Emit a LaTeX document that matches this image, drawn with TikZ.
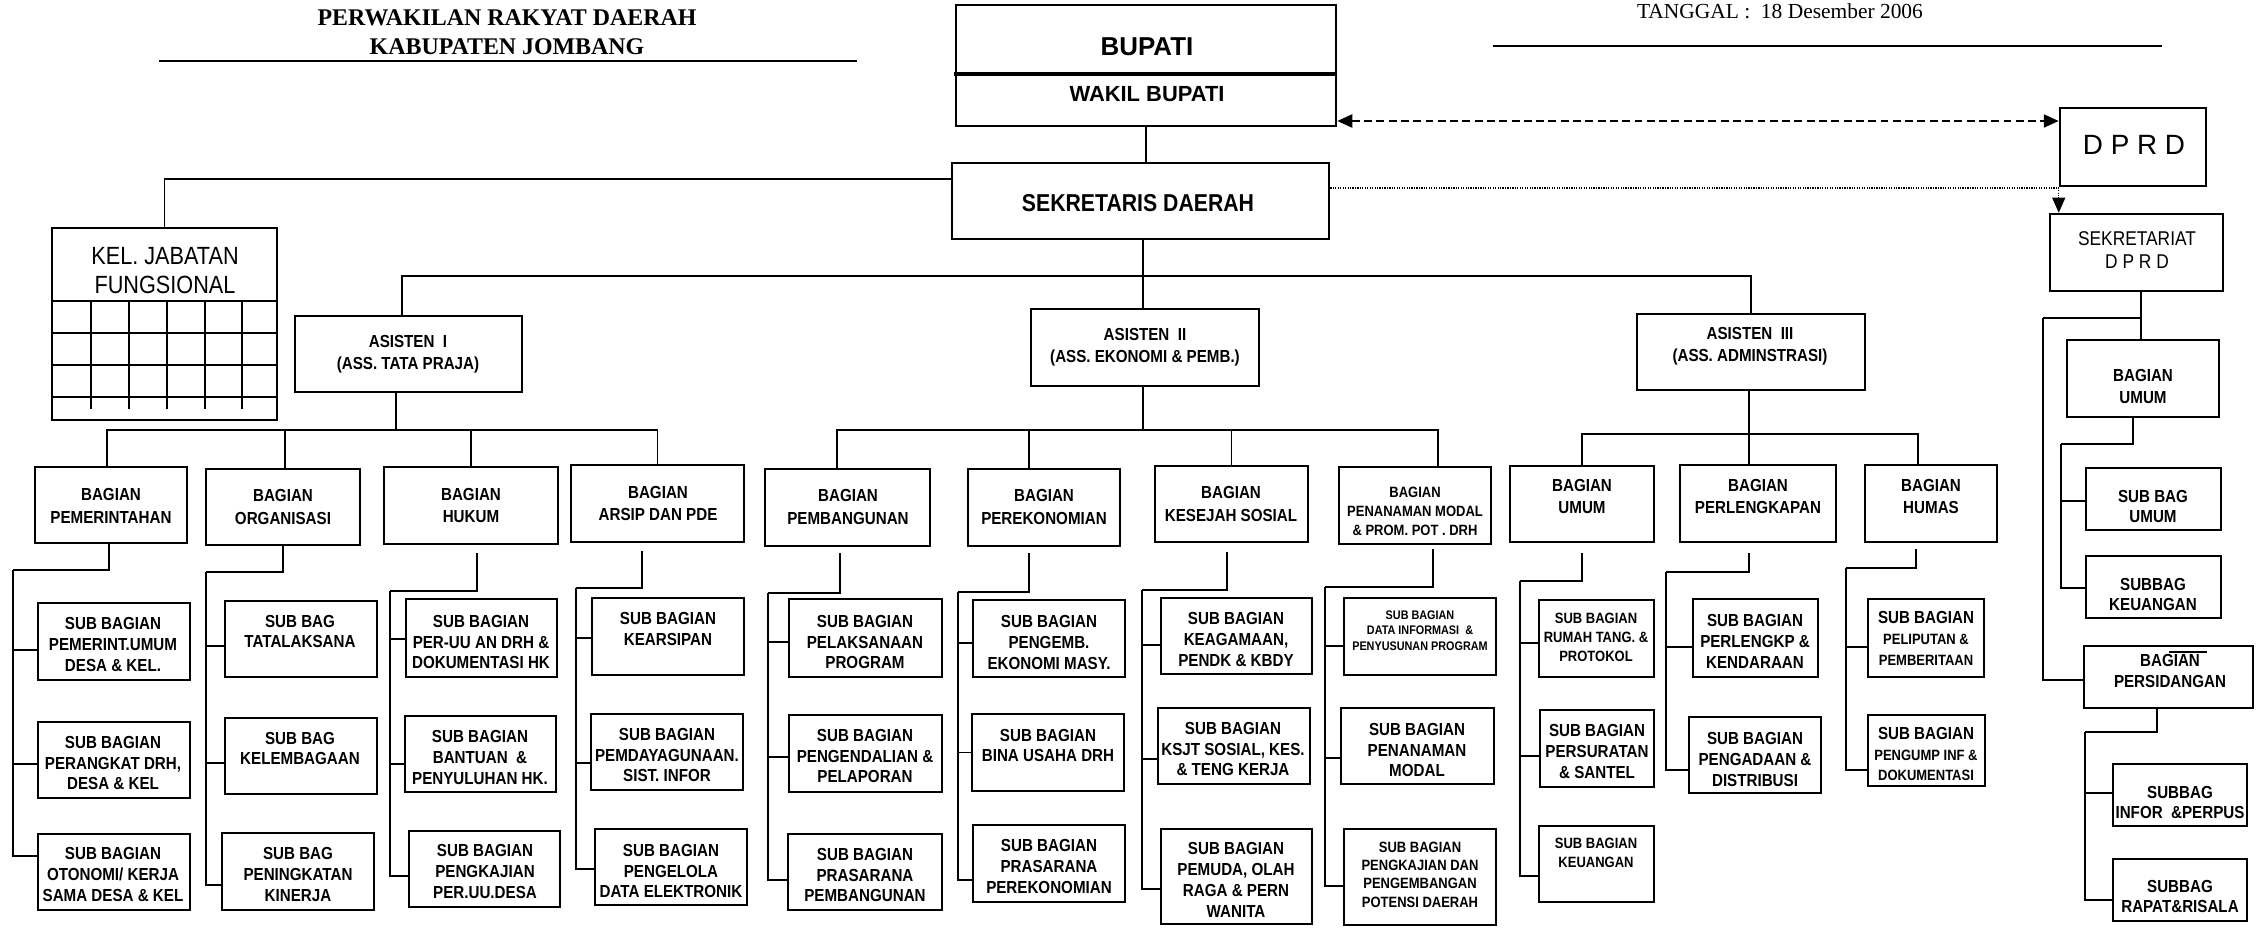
\documentclass[tikz,border=0pt]{standalone}
\usepackage{fontspec}
\newfontfamily\nfont[FakeStretch=0.87]{Liberation Sans}
\newfontfamily\rfont{Liberation Sans}
\newfontfamily\sfont{Liberation Serif}
\usetikzlibrary{arrows.meta,fit,calc}
\tikzset{
 box/.style={draw, line width=1.45pt, inner sep=0pt},
 conn/.style={line width=1pt},
 txt/.style={inner sep=0pt, align=center},
 tb/.style={txt, font=\nfont\bfseries\fontsize{9.92}{13.04}\selectfont},
 ts/.style={txt, font=\nfont\bfseries\fontsize{9.92}{11.9}\selectfont},
 tsm/.style={txt, font=\nfont\bfseries\fontsize{8.5}{10.77}\selectfont},
 tsq/.style={txt, font=\nfont\bfseries\fontsize{8.5}{10.4}\selectfont},
 ttn/.style={txt, font=\nfont\bfseries\fontsize{7.09}{8.79}\selectfont},
 ta/.style={txt, font=\nfont\bfseries\fontsize{9.92}{12.47}\selectfont},
 tbig/.style={txt, font=\rfont\bfseries\fontsize{14.74}{17}\selectfont},
 twak/.style={txt, font=\rfont\bfseries\fontsize{12.47}{15}\selectfont},
 tsek/.style={txt, font=\nfont\bfseries\fontsize{13.9}{16}\selectfont},
 tdprd/.style={txt, font=\rfont\fontsize{15.87}{19}\selectfont},
 tsekr/.style={txt, font=\nfont\fontsize{11.34}{13.6}\selectfont},
 tkel/.style={txt, font=\nfont\fontsize{14.17}{16.44}\selectfont},
 ttitle/.style={txt, font=\sfont\bfseries\fontsize{13.6}{16.44}\selectfont},
 tdate/.style={txt, font=\sfont\fontsize{12.2}{14}\selectfont},
}
\newcommand\ob[9]{%
 \coordinate (#1-a) at (#2,#3); \coordinate (#1-b) at (#4,#5);
 \node[box,fit=(#1-a)(#1-b)] (#1) {};
 \node[#8] (#1-t) at (#6,#7) {#9};}
\newcommand\spine[5]{%
 \coordinate (#1-d) at (#2,#3); \coordinate (#1-j) at (#4,#5);
 \draw[conn] (#1-d) |- (#1-j);}
\newcommand\stub[3]{\draw[conn] (#1-j) |- ($(#2.west)+(0,#3)$);}
\newcommand\mfs{\fontsize{8.5}{10.77}\selectfont}
\begin{document}
\begin{tikzpicture}[x=0.02cm,y=-0.02cm]
\fill[white] (0,0) rectangle (2258,930);
\useasboundingbox (0,0) rectangle (2258,930);
% header
\node[ttitle] (title) at (507,32.5) {PERWAKILAN RAKYAT DAERAH\\KABUPATEN JOMBANG};
\node[tdate] (date) at (1780,11) {TANGGAL~:~~18 Desember 2006};
\draw[line width=0.6pt] (159,61) -- (857,61);
\draw[line width=1pt] (1493,46) -- (2162,46);
% top boxes
\ob{bup}{956}{5}{1336}{126}{1147}{47}{tbig}{BUPATI}
\node[twak] (bup-t2) at (1147,94) {WAKIL BUPATI};
\draw[line width=1.8pt] (954,74) -- (1337,74);
\ob{sek}{952}{163}{1329}{239}{1138}{203}{tsek}{SEKRETARIS DAERAH}
\ob{dprd}{2060}{108}{2206}{186}{2134}{145}{tdprd}{D P R D}
\ob{sekr}{2050}{214}{2223}{291}{2137}{250}{tsekr}{SEKRETARIAT\\D P R D}
\ob{kel}{52}{228}{277}{420}{165}{270.5}{tkel}{KEL. JABATAN\\FUNGSIONAL}
\draw[line width=1.45pt] (52,301) -- (277,301);
\foreach \yy in {333,365,397} \draw[line width=1.1pt] (52,\yy) -- (277,\yy);
\foreach \xx in {91,129,167,205,242} \draw[line width=1.1pt] (\xx,301) -- (\xx,409);
% asisten
\ob{ast1}{295}{316}{522}{392}{408}{354}{ta}{ASISTEN~~I\\(ASS. TATA PRAJA)}
\ob{ast2}{1031}{309}{1259}{386}{1145}{347.5}{ta}{ASISTEN~~II\\(ASS. EKONOMI \& PEMB.)}
\ob{ast3}{1637}{314}{1865}{390}{1750}{346}{ta}{ASISTEN~~III\\(ASS. ADMINSTRASI)}
% bagian row
\ob{pem}{35}{467}{187}{543}{111}{505.5}{tb}{BAGIAN\\PEMERINTAHAN}
\ob{org}{206}{469}{360}{545}{283}{507}{tb}{BAGIAN\\ORGANISASI}
\ob{huk}{384}{467}{558}{544}{471}{505.5}{tb}{BAGIAN\\HUKUM}
\ob{ars}{571}{465}{744}{542}{658}{503.5}{tb}{BAGIAN\\ARSIP DAN PDE}
\ob{pmb}{765}{469}{930}{546}{848}{507}{tb}{BAGIAN\\PEMBANGUNAN}
\ob{prk}{968}{469}{1120}{546}{1044}{507}{tb}{BAGIAN\\PEREKONOMIAN}
\ob{kes}{1155}{466}{1308}{542}{1231}{504}{tb}{BAGIAN\\KESEJAH SOSIAL}
\ob{pnm}{1339}{467}{1491}{544}{1415}{511}{tsm}{BAGIAN\\PENANAMAN MODAL\\\& PROM. POT . DRH}
\ob{bum}{1510}{466}{1654}{542}{1582}{496.5}{tb}{BAGIAN\\UMUM}
\ob{bpl}{1680}{465}{1836}{542}{1758}{496.5}{tb}{BAGIAN\\PERLENGKAPAN}
\ob{bhm}{1865}{465}{1997}{542}{1931}{496.5}{tb}{BAGIAN\\HUMAS}
% sub boxes
\ob{p1}{38}{603}{190}{680}{113}{644.5}{ts}{SUB BAGIAN\\PEMERINT.UMUM\\DESA \& KEL.}
\ob{p2}{38}{722}{190}{798}{113}{763}{ts}{SUB BAGIAN\\PERANGKAT DRH,\\DESA \& KEL}
\ob{p3}{38}{834}{190}{910}{113}{874.5}{ts}{SUB BAGIAN\\OTONOMI/ KERJA\\SAMA DESA \& KEL}
\ob{o1}{225}{601}{377}{677}{300}{631.5}{ts}{SUB BAG\\TATALAKSANA}
\ob{o2}{225}{718}{377}{794}{300}{748.5}{ts}{SUB BAG\\KELEMBAGAAN}
\ob{o3}{222}{833}{374}{910}{298}{874.5}{ts}{SUB BAG\\PENINGKATAN\\KINERJA}
\ob{h1}{406}{599}{557}{677}{481}{642}{ts}{SUB BAGIAN\\PER-UU AN DRH \&\\DOKUMENTASI HK}
\ob{h2}{405}{716}{556}{792}{480}{757.5}{ts}{SUB BAGIAN\\BANTUAN~~\&\\PENYULUHAN HK.}
\ob{h3}{409}{831}{560}{907}{485}{871.5}{ts}{SUB BAGIAN\\PENGKAJIAN\\PER.UU.DESA}
\ob{a1}{592}{598}{744}{675}{668}{629}{ts}{SUB BAGIAN\\KEARSIPAN}
\ob{a2}{591}{714}{743}{790}{667}{755}{ts}{SUB BAGIAN\\PEMDAYAGUNAAN.\\SIST. INFOR}
\ob{a3}{595}{829}{747}{905}{671}{871}{ts}{SUB BAGIAN\\PENGELOLA\\DATA ELEKTRONIK}
\ob{m1}{789}{599}{942}{677}{865}{642}{ts}{SUB BAGIAN\\PELAKSANAAN\\PROGRAM}
\ob{m2}{789}{715}{942}{792}{865}{756}{ts}{SUB BAGIAN\\PENGENDALIAN \&\\PELAPORAN}
\ob{m3}{788}{834}{942}{910}{865}{875}{ts}{SUB BAGIAN\\PRASARANA\\PEMBANGUNAN}
\ob{k1}{973}{600}{1125}{677}{1049}{642.5}{ts}{SUB BAGIAN\\PENGEMB.\\EKONOMI MASY.}
\ob{k2}{972}{714}{1124}{791}{1048}{745.5}{ts}{SUB BAGIAN\\BINA USAHA DRH}
\ob{k3}{973}{825}{1125}{902}{1049}{866.5}{ts}{SUB BAGIAN\\PRASARANA\\PEREKONOMIAN}
\ob{s1}{1161}{598}{1312}{674}{1236}{639.5}{ts}{SUB BAGIAN\\KEAGAMAAN,\\PENDK \& KBDY}
\ob{s2}{1158}{708}{1310}{784}{1233}{749}{ts}{SUB BAGIAN\\KSJT SOSIAL, KES.\\\& TENG KERJA}
\ob{s3}{1161}{829}{1312}{924}{1236}{880}{ts}{SUB BAGIAN\\PEMUDA, OLAH\\RAGA \& PERN\\WANITA}
\ob{n1}{1344}{598}{1496}{675}{1420}{630.5}{ttn}{SUB BAGIAN\\DATA INFORMASI~~\&\\PENYUSUNAN PROGRAM}
\ob{n2}{1341}{708}{1494}{784}{1417}{750}{ts}{SUB BAGIAN\\PENANAMAN\\MODAL}
\ob{n3}{1344}{829}{1496}{925}{1420}{874.5}{tsq}{SUB BAGIAN\\PENGKAJIAN DAN\\PENGEMBANGAN\\POTENSI DAERAH}
\ob{u1}{1539}{600}{1654}{677}{1596}{637}{tsm}{SUB BAGIAN\\RUMAH TANG. \&\\PROTOKOL}
\ob{u2}{1540}{710}{1654}{787}{1597}{751.5}{ts}{SUB BAGIAN\\PERSURATAN\\\& SANTEL}
\ob{u3}{1539}{826}{1654}{902}{1596}{852.5}{tsm}{SUB BAGIAN\\KEUANGAN}
\ob{l1}{1693}{599}{1818}{677}{1755}{641.5}{ts}{SUB BAGIAN\\PERLENGKP \&\\KENDARAAN}
\ob{l2}{1689}{717}{1821}{793}{1755}{759.5}{ts}{SUB BAGIAN\\PENGADAAN \&\\DISTRIBUSI}
\ob{e1}{1868}{599}{1984}{677}{1926}{638.5}{ts}{SUB BAGIAN\\{\mfs PELIPUTAN \&}\\{\mfs PEMBERITAAN}}
\ob{e2}{1868}{715}{1985}{786}{1926}{754}{ts}{SUB BAGIAN\\{\mfs PENGUMP INF \&}\\{\mfs DOKUMENTASI}}
% right column
\ob{rum}{2067}{340}{2219}{417}{2143}{386.5}{tb}{BAGIAN\\UMUM}
\ob{rsu}{2086}{468}{2221}{530}{2153}{506.5}{ts}{SUB BAG\\UMUM}
\ob{rsk}{2086}{556}{2221}{618}{2153}{594.5}{ts}{SUBBAG\\KEUANGAN}
\ob{rsid}{2084}{646}{2253}{708}{2170}{671}{ts}{BAGIAN\\PERSIDANGAN}
\draw[line width=0.8pt] (2169,652) -- (2207,652);
\ob{rinf}{2113}{764}{2247}{826}{2180}{802.5}{ts}{SUBBAG\\INFOR~~\&PERPUS}
\ob{rrap}{2113}{859}{2247}{921}{2180}{896.5}{ts}{SUBBAG\\RAPAT\&RISALA}
% top connectors
\draw[conn] (bup.south) -- (bup.south |- sek.north);
\draw[conn] (sek.west |- 0,179) -| (kel.north);
\coordinate (bus0) at (1143,276);
\draw[conn] (sek.south -| bus0) -- (ast2.north -| bus0);
\draw[conn] (ast1.north -| 402,0) |- (bus0) -| (ast3.north);
\draw[line width=1.3pt, dash pattern=on 4.5pt off 2.5pt, {Triangle[length=0.3cm,width=0.26cm]}-{Triangle[length=0.3cm,width=0.26cm]}] (bup.east |- 0,121) -- (dprd.west |- 0,121);
\draw[line width=0.6pt, dash pattern=on 0.7pt off 0.7pt, -{Triangle[length=0.3cm,width=0.26cm]}] (sek.east |- 0,188) -| (dprd.west |- sekr.north);
% asisten buses
\coordinate (b1) at (396,430);
\draw[conn] (ast1.south -| b1) -- (b1);
\draw[conn] (pem.north -| 107,0) |- (b1) -| (ars.north);
\draw[conn] (org.north -| 285,0) |- (b1);
\draw[conn] (huk.north) |- (b1);
\coordinate (b2) at (1143,430);
\draw[conn] (ast2.south -| b2) -- (b2);
\draw[conn] (pmb.north -| 837,0) |- (b2) -| (pnm.north -| 1438,0);
\draw[conn] (prk.north -| 1029,0) |- (b2);
\draw[conn] (kes.north) |- (b2);
\coordinate (b3) at (1749,434);
\draw[conn] (ast3.south -| b3) -- (b3);
\draw[conn] (bum.north) |- (b3) -| (bhm.north -| 1918,0);
\draw[conn] (bpl.north -| b3) -- (b3);
% sub spines
\spine{pem}{109}{543}{13}{570}
\stub{pem}{p1}{8.5}\stub{pem}{p2}{4}\stub{pem}{p3}{-16}
\spine{org}{283}{545}{206}{572}
\stub{org}{o1}{7}\stub{org}{o2}{7}\stub{org}{o3}{13.5}
\spine{huk}{477}{553}{390}{591}
\stub{huk}{h1}{1}\stub{huk}{h2}{10}\stub{huk}{h3}{7}
\spine{ars}{642}{551}{576}{588}
\stub{ars}{a1}{1.5}\stub{ars}{a2}{11}\stub{ars}{a3}{2}
\spine{pmb}{840}{553}{768}{593}
\stub{pmb}{m1}{4}\stub{pmb}{m2}{3.5}\stub{pmb}{m3}{8}
\spine{prk}{1029}{553}{958}{592}
\stub{prk}{k1}{4.5}\stub{prk}{k2}{0}\stub{prk}{k3}{16.5}
\spine{kes}{1227}{552}{1142}{590}
\stub{kes}{s1}{9}\stub{kes}{s2}{13}\stub{kes}{s3}{12.5}
\spine{pnm}{1433}{549}{1325}{587}
\stub{pnm}{n1}{9.5}\stub{pnm}{n2}{12}\stub{pnm}{n3}{9}
\spine{bum}{1582}{553}{1520}{581}
\stub{bum}{u1}{4.5}\stub{bum}{u2}{7.5}\stub{bum}{u3}{12}
\spine{bpl}{1749}{553}{1666}{572}
\stub{bpl}{l1}{9}\stub{bpl}{l2}{15}
\spine{bhm}{1916}{549}{1846}{568}
\stub{bhm}{e1}{9}\stub{bhm}{e2}{19.5}
% right column connectors
\coordinate (rj) at (2043,318);
\draw[conn] (sekr.south -| 2141,0) -- (rum.north -| 2141,0);
\draw[conn] (rj) -- (rj -| 2141,0);
\draw[conn] (rj) |- ($(rsid.west)+(0,3)$);
\spine{rum}{2133}{417}{2061}{444}
\stub{rum}{rsu}{2}\stub{rum}{rsk}{1}
\spine{rsid}{2157}{708}{2085}{732}
\stub{rsid}{rinf}{-2}\stub{rsid}{rrap}{10}
\end{tikzpicture}
\end{document}
